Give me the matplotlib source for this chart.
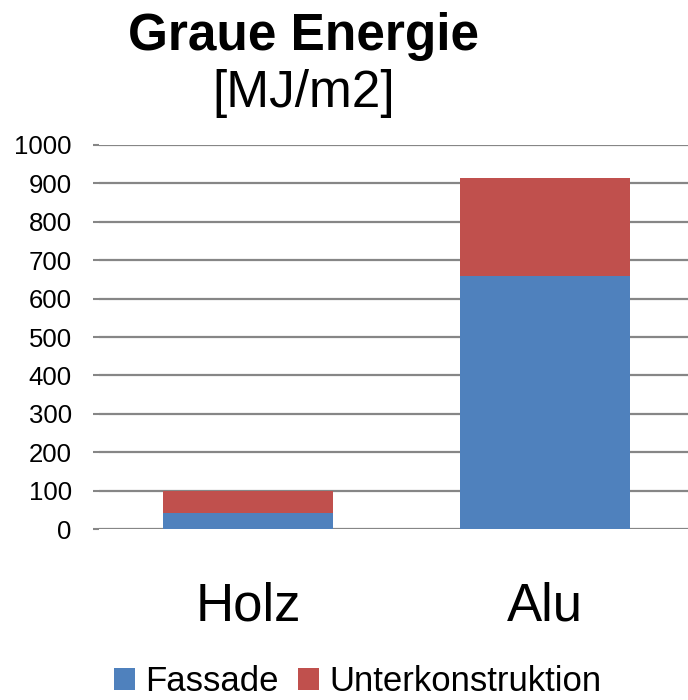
import numpy as np
import matplotlib.pyplot as plt

categories = ["Holz", "Alu"]
fassade = [41, 660]
unterkonstruktion = [59, 253]
yticks = [0, 100, 200, 300, 400, 500, 600, 700, 800, 900, 1000]

plt.rcParams["font.family"] = ["Liberation Sans", "DejaVu Sans"]

blue = "#4f81bd"
red = "#c0504d"

fig = plt.figure(figsize=(6.88, 7.0), dpi=100)
ax = fig.add_axes([0.1445, 0.244, 0.8634, 0.549])

x = np.arange(len(categories))
ax.bar(x, fassade, width=0.575, color=blue, label="Fassade", zorder=3)
ax.bar(x, unterkonstruktion, width=0.575, bottom=fassade, color=red,
       label="Unterkonstruktion", zorder=3)

ax.set_ylim(0, 1000)
ax.set_xlim(-0.5, 1.5)
ax.set_yticks(yticks)
ax.set_yticklabels([str(t) for t in yticks], fontsize=18.5)
ax.set_xticks(x)
ax.set_xticklabels(categories, fontsize=38)
ax.tick_params(axis="x", length=0, pad=38)
ax.tick_params(axis="y", length=4, width=1.5, color="#868686", pad=16)
ax.yaxis.grid(True, color="#868686", linewidth=1.6, zorder=0)
for s in ax.spines.values():
    s.set_visible(False)

fig.text(0.441, 0.948, "Graue Energie", ha="center", va="center",
         fontsize=37, fontweight="bold")
fig.text(0.441, 0.866, "[MJ/m2]", ha="center", va="center", fontsize=37)

fig.legend(loc="center", bbox_to_anchor=(0.52, 0.026), ncol=2, frameon=False,
           fontsize=25, handlelength=0.6, handleheight=0.6, handletextpad=0.3,
           columnspacing=0.55, borderpad=0.2)

fig.savefig("out.png", dpi=100)
